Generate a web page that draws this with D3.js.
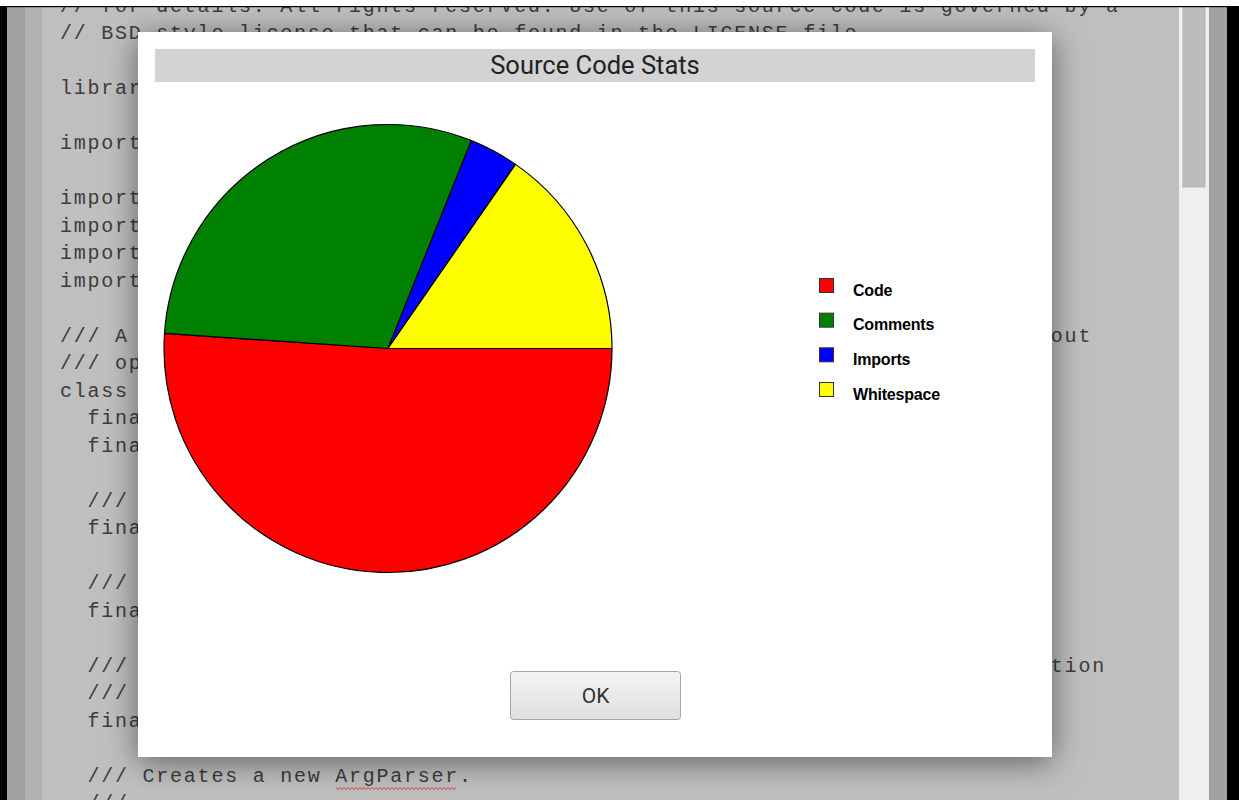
<!DOCTYPE html>
<html>
<head>
<meta charset="utf-8">
<script src="https://cdn.jsdelivr.net/npm/d3@7"></script>
<style>
  html, body { margin: 0; padding: 0; background: #fff; overflow: hidden; }
  svg { display: block; }
</style>
</head>
<body>
<svg id="screen" width="1239" height="800"></svg>
<script>
// pie data
const categories = ['Code', 'Comments', 'Imports', 'Whitespace'];
const lineCounts = [286, 168, 20, 86];
const sliceColors = ['#ff0000', '#008000', '#0000ff', '#ffff00'];

// source text behind the dialog
const sourceLines = [
    '// for details. All rights reserved. Use of this source code is governed by a',
    '// BSD-style license that can be found in the LICENSE file.',
    '',
    'library args.src.arg_parser;',
    '',
    "import 'dart:collection';",
    '',
    "import 'arg_results.dart';",
    "import 'option.dart';",
    "import 'parser.dart';",
    "import 'usage.dart';",
    '',
    '/// A class for taking a list of raw command line arguments and parsing out',
    '/// options and flags from them.',
    'class ArgParser {',
    '  final Map<String, Option> _options;',
    '  final Map<String, ArgParser> _commands;',
    '',
    '  /// The options that have been defined for this parser.',
    '  final Map<String, Option> options;',
    '',
    '  /// The commands that have been defined for this parser.',
    '  final Map<String, ArgParser> commands;',
    '',
    '  /// Whether or not this parser parses options that appear after non-option',
    '  /// arguments.',
    '  final bool allowTrailingOptions;',
    '',
    '  /// Creates a new ArgParser.',
    '  ///'
];

const svg = d3.select('#screen');
const W = 1239, H = 800;

const defs = svg.append('defs');
const shadow = defs.append('filter')
    .attr('id', 'shadow')
    .attr('x', '-15%').attr('y', '-15%')
    .attr('width', '130%').attr('height', '130%');
shadow.append('feDropShadow')
    .attr('dx', 0).attr('dy', 5)
    .attr('stdDeviation', 16)
    .attr('flood-color', '#000')
    .attr('flood-opacity', 0.5);

const btnGrad = defs.append('linearGradient')
    .attr('id', 'btnGrad')
    .attr('x1', 0).attr('y1', 0).attr('x2', 0).attr('y2', 1);
btnGrad.append('stop').attr('offset', '0%').attr('stop-color', '#f4f4f4');
btnGrad.append('stop').attr('offset', '100%').attr('stop-color', '#dfdfdf');

// editor background (dimmed by the modal)
svg.append('rect').attr('width', W).attr('height', H).attr('fill', '#fff');
svg.append('rect').attr('x', 0).attr('y', 6).attr('width', W).attr('height', H - 6).attr('fill', '#000');
svg.append('rect').attr('x', 7).attr('y', 7).attr('width', 1220).attr('height', H - 7).attr('fill', '#a2a2a2');
svg.append('rect').attr('x', 25).attr('y', 7).attr('width', 1184).attr('height', H - 7).attr('fill', '#b2b2b2');
svg.append('rect').attr('x', 42).attr('y', 7).attr('width', 1137).attr('height', H - 7).attr('fill', '#bfbfbf');

// scrollbar
svg.append('rect').attr('x', 1179).attr('y', 7).attr('width', 30).attr('height', H - 7).attr('fill', '#efefef');
svg.append('rect').attr('x', 1183).attr('y', 7).attr('width', 22).attr('height', 180)
    .attr('fill', '#bcbcbc').attr('stroke', '#aaa').attr('stroke-width', 0.8);

// code text
const lineH = 27.5;
svg.append('g')
    .selectAll('text')
    .data(sourceLines)
    .join('text')
    .attr('x', 60)
    .attr('y', (d, i) => 11.5 + i * lineH)
    .attr('font-family', '"Liberation Mono", "Courier New", monospace')
    .attr('font-size', 20)
    .attr('letter-spacing', 1.76)
    .attr('fill', '#3c3c3c')
    .attr('xml:space', 'preserve')
    .style('white-space', 'pre')
    .text(d => d);

// spellcheck squiggle under ArgParser
const sq = d3.path();
const sqY = 11.5 + 28 * lineH + 6;
sq.moveTo(336, sqY);
for (let x = 336; x < 456; x += 4) {
    sq.lineTo(x + 2, sqY + 2);
    sq.lineTo(x + 4, sqY);
}
svg.append('path').attr('d', sq.toString()).attr('fill', 'none')
    .attr('stroke', '#d23a3a').attr('stroke-width', 1);

// white top strip over the cut off first line
svg.append('rect').attr('width', W).attr('height', 6).attr('fill', '#fff');
svg.append('rect').attr('x', 0).attr('y', 6).attr('width', W).attr('height', 1.2).attr('fill', '#000');

// dialog
const dlg = svg.append('g');
dlg.append('rect')
    .attr('x', 138).attr('y', 32)
    .attr('width', 914).attr('height', 725)
    .attr('fill', '#fff')
    .attr('filter', 'url(#shadow)');

dlg.append('rect')
    .attr('x', 155).attr('y', 49)
    .attr('width', 880).attr('height', 33)
    .attr('fill', '#d3d3d3');

dlg.append('text')
    .attr('x', 595).attr('y', 74)
    .attr('text-anchor', 'middle')
    .attr('font-family', 'Roboto, sans-serif')
    .attr('font-size', 25.5)
    .attr('fill', '#222')
    .text('Source Code Stats');

// pie
const data = categories.map((c, i) => ({ name: c, value: lineCounts[i], color: sliceColors[i] }));
const cx = 388, cy = 348.5, radius = 224;

const pie = d3.pie()
    .sort(null)
    .value(d => d.value)
    .startAngle(Math.PI / 2)
    .endAngle(Math.PI / 2 + 2 * Math.PI);

const arc = d3.arc().innerRadius(0).outerRadius(radius);

dlg.append('g')
    .attr('transform', `translate(${cx}, ${cy})`)
    .selectAll('path')
    .data(pie(data))
    .join('path')
    .attr('d', arc)
    .attr('fill', d => d.data.color)
    .attr('stroke', '#000')
    .attr('stroke-width', 1.2)
    .attr('stroke-linejoin', 'round');

// legend
const legendY = d3.scalePoint()
    .domain(categories)
    .range([278, 382]);

const legend = dlg.append('g')
    .selectAll('g')
    .data(data)
    .join('g')
    .attr('transform', d => `translate(819, ${legendY(d.name)})`);

legend.append('rect')
    .attr('x', 0.5).attr('y', 0.5)
    .attr('width', 14).attr('height', 14)
    .attr('fill', d => d.color)
    .attr('stroke', '#333')
    .attr('stroke-width', 1);

legend.append('text')
    .attr('x', 34).attr('y', 17.5)
    .attr('font-family', '"Liberation Sans", Arial, sans-serif')
    .attr('font-weight', 'bold')
    .attr('font-size', 16)
    .attr('letter-spacing', -0.2)
    .attr('fill', '#000')
    .text(d => d.name);

// OK button
dlg.append('rect')
    .attr('x', 510.5).attr('y', 671.5)
    .attr('width', 170).attr('height', 48)
    .attr('rx', 3)
    .attr('fill', 'url(#btnGrad)')
    .attr('stroke', '#a6a6a6')
    .attr('stroke-width', 1);

dlg.append('text')
    .attr('x', 595.5).attr('y', 703)
    .attr('text-anchor', 'middle')
    .attr('font-family', 'Roboto, Arial, sans-serif')
    .attr('font-size', 21)
    .attr('fill', '#333')
    .text('OK');
</script>
</body>
</html>
